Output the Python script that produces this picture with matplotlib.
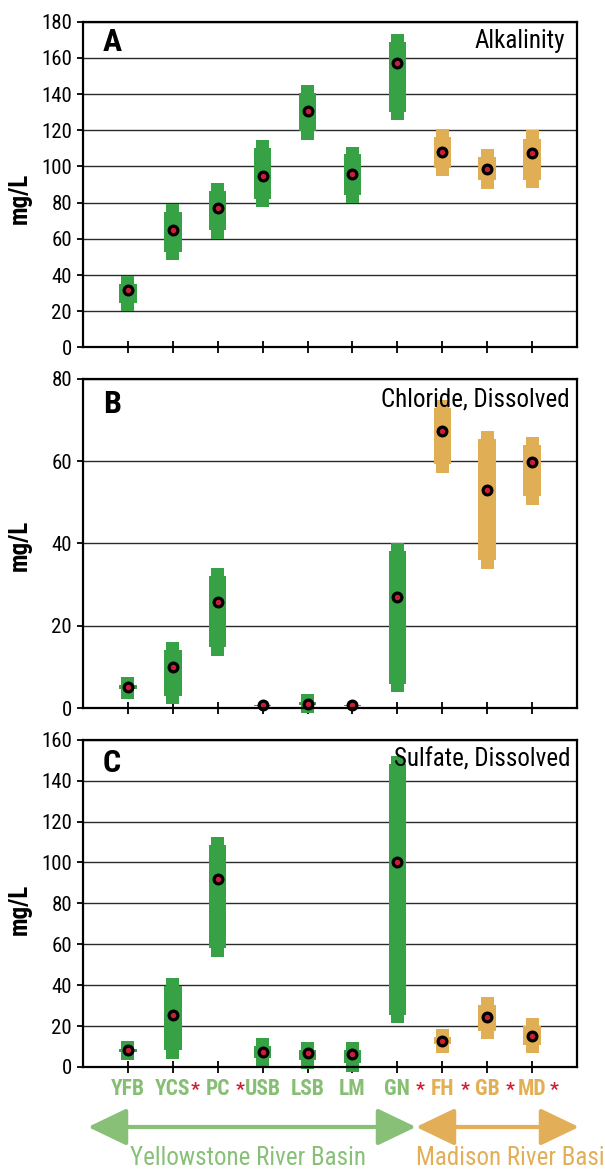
import numpy as np
import matplotlib
matplotlib.use("Agg")
import matplotlib.pyplot as plt
import matplotlib.transforms as mtransforms
from matplotlib.patches import FancyArrowPatch

plt.rcParams['font.family'] = ['Roboto Condensed', 'DejaVu Sans']

stations = ["YFB", "YCS", "PC", "USB", "LSB", "LM", "GN", "FH", "GB", "MD"]
starred = [False, True, True, False, False, False, True, True, True, True]
basin = ["Y", "Y", "Y", "Y", "Y", "Y", "Y", "M", "M", "M"]

# Alkalinity (mg/L)
alk_min = [20.0, 48.3, 59.9, 77.6, 114.6, 80.0, 125.6, 94.9, 87.5, 88.2]
alk_max = [39.4, 79.2, 90.8, 114.6, 145.0, 110.7, 173.1, 120.7, 109.6, 120.3]
alk_lo = [24.7, 52.7, 64.9, 82.0, 119.6, 84.4, 130.2, 99.3, 92.5, 92.5]
alk_hi = [35.0, 74.8, 86.4, 110.2, 140.4, 106.7, 168.7, 116.2, 105.2, 115.1]
alk_med = [31.7, 64.9, 77.0, 94.9, 130.6, 95.6, 157.2, 108.0, 98.6, 107.2]

# Chloride, dissolved (mg/L)
cl_min = [2.2, 1.0, 12.6, 0.6, -1.2, 0.6, 3.9, 57.2, 33.8, 49.4]
cl_max = [7.5, 16.0, 34.0, 0.8, 3.4, 0.8, 40.0, 74.8, 67.3, 65.9]
cl_lo = [4.5, 2.9, 14.8, 0.6, 0.8, 0.6, 5.9, 59.4, 36.0, 51.6]
cl_hi = [5.6, 14.1, 32.1, 0.8, 1.5, 0.8, 38.1, 72.9, 65.4, 63.9]
cl_med = [5.0, 9.9, 25.7, 0.7, 0.9, 0.7, 27.0, 67.3, 53.0, 59.8]

# Sulfate, dissolved (mg/L)
so4_min = [3.4, 3.9, 53.7, 0.0, -0.9, -2.3, 21.6, 6.9, 13.8, 6.9]
so4_max = [12.7, 43.5, 112.4, 14.1, 12.2, 12.2, 152.0, 18.5, 34.2, 23.9]
so4_lo = [7.3, 8.3, 58.1, 4.2, 3.4, 1.8, 25.5, 11.2, 17.7, 10.9]
so4_hi = [8.8, 39.6, 108.5, 10.2, 8.3, 8.3, 148.1, 14.6, 30.3, 20.0]
so4_med = [8.1, 25.2, 91.7, 7.4, 6.8, 6.2, 100.2, 12.8, 24.4, 15.1]

panels = [
    dict(letter="A", title="Alkalinity", ymax=180, yticks=np.arange(0, 181, 20),
         mn=alk_min, mx=alk_max, lo=alk_lo, hi=alk_hi, med=alk_med,
         rect=[83/605, (1170-347.4)/1170, 494/605, 325.8/1170], lab_y=0.457,
         title_x=0.975, let_y=0.982, title_y=0.976),
    dict(letter="B", title="Chloride, Dissolved", ymax=80, yticks=np.arange(0, 81, 20),
         mn=cl_min, mx=cl_max, lo=cl_lo, hi=cl_hi, med=cl_med,
         rect=[83/605, (1170-708.0)/1170, 494/605, 329.2/1170], lab_y=0.495,
         title_x=0.986, let_y=0.968, title_y=0.974),
    dict(letter="C", title="Sulfate, Dissolved", ymax=160, yticks=np.arange(0, 161, 20),
         mn=so4_min, mx=so4_max, lo=so4_lo, hi=so4_hi, med=so4_med,
         rect=[83/605, (1170-1066.9)/1170, 494/605, 327.2/1170], lab_y=0.48,
         title_x=0.986, let_y=0.976, title_y=0.976),
]

bar_col = {"Y": "#37A245", "M": "#E0AE55"}
lab_col = {"Y": "#86BF74", "M": "#E2AF55"}
red = "#CC1F36"

fig = plt.figure(figsize=(6.05, 11.7), dpi=100)
x = np.arange(1, len(stations) + 1)
cols = [bar_col[b] for b in basin]

for i, p in enumerate(panels):
    ax = fig.add_axes(p["rect"])
    ax.set_xlim(0, 11)
    ax.set_ylim(0, p["ymax"])
    ax.set_axisbelow(True)
    ax.set_yticks(p["yticks"])
    ax.yaxis.grid(True, color="#2a2a2a", lw=1.0)
    mn = np.array(p["mn"]); mx = np.array(p["mx"])
    lo = np.array(p["lo"]); hi = np.array(p["hi"])
    ax.bar(x, mx - mn, bottom=mn, width=0.29, color=cols, zorder=2, clip_on=False)
    ax.bar(x, hi - lo, bottom=lo, width=0.39, color=cols, zorder=2, clip_on=False)
    ax.plot(x, p["med"], ls="none", marker="o", ms=6.3, mfc=red, mec="black",
            mew=2.3, zorder=4, clip_on=False)
    for s in ax.spines.values():
        s.set_linewidth(1.6)
        s.set_zorder(5)
    ax.tick_params(axis="y", direction="out", length=4, width=1.3, labelsize=15, pad=4)
    ax.tick_params(axis="x", direction="inout", length=8, width=1.3)
    ax.set_xticks(x)
    ax.set_ylabel("mg/L", fontsize=18, fontweight="bold")
    ax.yaxis.set_label_coords(-0.103, p["lab_y"])
    ax.text(0.04, p["let_y"], p["letter"], transform=ax.transAxes, ha="left", va="top",
            fontsize=23, fontweight="bold")
    ax.text(p["title_x"], p["title_y"], p["title"], transform=ax.transAxes, ha="right",
            va="top", fontsize=18)
    if i < 2:
        ax.set_xticklabels([])
    else:
        ax.set_xticklabels(stations, fontsize=15.5, fontweight="bold")
        shift = mtransforms.ScaledTranslation(-3 / 100, 0, fig.dpi_scale_trans)
        for t, b in zip(ax.get_xticklabels(), basin):
            t.set_color(lab_col[b])
            t.set_transform(t.get_transform() + shift)
        ax.tick_params(axis="x", pad=4)
        for xi, st in zip(x, starred):
            if st:
                ax.annotate("*", xy=(xi + 0.5, 0), xycoords=("data", "axes fraction"),
                            xytext=(0, -20.5), textcoords="offset points",
                            ha="center", va="baseline", color=red, fontsize=14,
                            fontweight="bold", annotation_clip=False)

def fx(px):
    return px / 605

def fy(py):
    return (1170 - py) / 1170

arr_y = fy(1127)
for x0, x1, c in [(88, 416, "#88C078"), (416, 579, "#E2AF58")]:
    a = FancyArrowPatch((fx(x0), arr_y), (fx(x1), arr_y), transform=fig.transFigure,
                        arrowstyle="<|-|>,head_length=24,head_width=11.5",
                        mutation_scale=1, lw=3, color=c, shrinkA=0, shrinkB=0)
    fig.add_artist(a)

fig.text(fx(248), fy(1165), "Yellowstone River Basin", ha="center", va="baseline",
         fontsize=18, color="#88C078")
fig.text(fx(416), fy(1165), "Madison River Basin", ha="left", va="baseline",
         fontsize=18, color="#E2AF58")

fig.savefig("out.png", dpi=100)
